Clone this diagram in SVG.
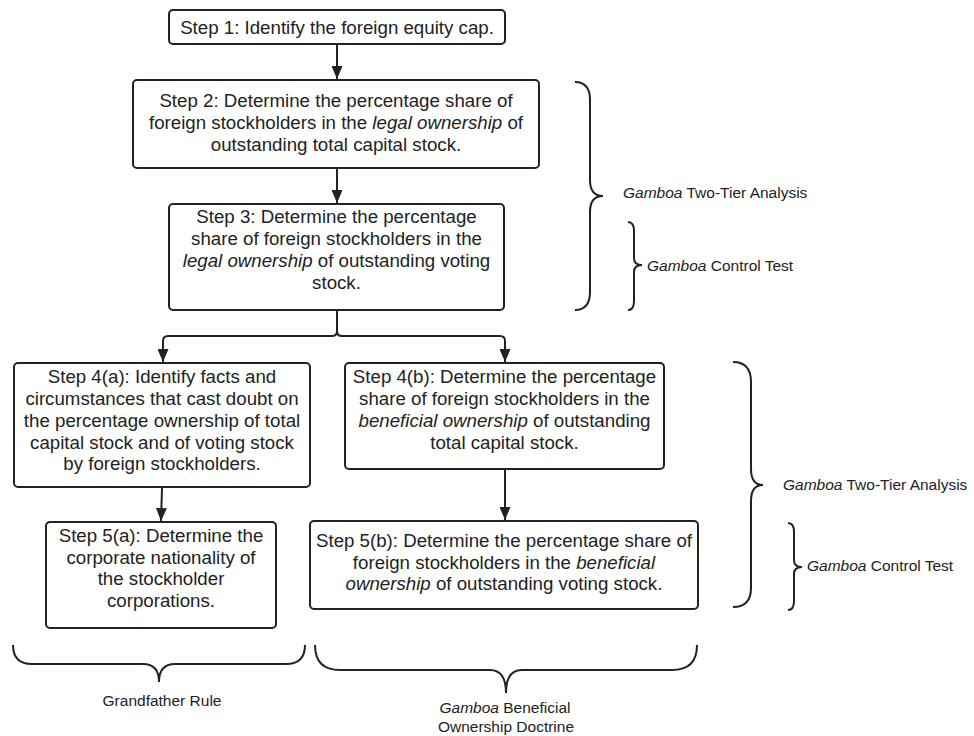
<svg xmlns="http://www.w3.org/2000/svg" width="974" height="736" viewBox="0 0 974 736">
<style>
.box{fill:#fff;stroke:#222;stroke-width:2}
.t{font-family:"Liberation Sans",Arial,sans-serif;font-size:18.7px;fill:#222;text-anchor:middle}
.lab{font-family:"Liberation Sans",Arial,sans-serif;font-size:15.5px;fill:#222}
.labc{font-family:"Liberation Sans",Arial,sans-serif;font-size:15.5px;fill:#222;text-anchor:middle}
.i{font-style:italic}
.con{fill:none;stroke:#222;stroke-width:2}
.brace{fill:none;stroke:#222;stroke-width:2}
</style>
<defs>
<marker id="arrv" markerUnits="userSpaceOnUse" markerWidth="14" markerHeight="11" viewBox="0 0 14 11" refX="13" refY="5.5" orient="auto">
<path d="M0,0 L13,5.5 L0,11 Z" fill="#222"/>
</marker>
</defs>
<rect width="974" height="736" fill="#fff"/>

<g id="connectors">
<path class="con" d="M337,44 V79" marker-end="url(#arrv)"/>
<path class="con" d="M337,168 V203" marker-end="url(#arrv)"/>
<path class="con" d="M337,310 V331 Q337,336 332,336 H168 Q163,336 163,341 V362" marker-end="url(#arrv)"/>
<path class="con" d="M337,331 Q337,336 342,336 H500 Q505,336 505,341 V362" marker-end="url(#arrv)"/>
<path class="con" d="M162,488 L161,521" marker-end="url(#arrv)"/>
<path class="con" d="M505,469 V520" marker-end="url(#arrv)"/>
</g>

<g id="step1">
<rect class="box" x="169" y="10" width="336" height="34" rx="4"/>
<text class="t" x="337" y="33.5">Step 1: Identify the foreign equity cap.</text>
</g>

<g id="step2">
<rect class="box" x="133" y="80" width="406" height="88" rx="4"/>
<text class="t" x="336" y="107">Step 2: Determine the percentage share of</text>
<text class="t" x="336" y="129">foreign stockholders in the <tspan class="i">legal ownership</tspan> of</text>
<text class="t" x="336" y="150.5">outstanding total capital stock.</text>
</g>

<g id="step3">
<rect class="box" x="169" y="204" width="335" height="106" rx="4"/>
<text class="t" x="336.5" y="223">Step 3: Determine the percentage</text>
<text class="t" x="336.5" y="245">share of foreign stockholders in the</text>
<text class="t" x="336.5" y="267"><tspan class="i">legal ownership</tspan> of outstanding voting</text>
<text class="t" x="336.5" y="289">stock.</text>
</g>

<g id="step4a">
<rect class="box" x="14" y="363" width="296" height="124" rx="4"/>
<text class="t" x="162" y="383">Step 4(a): Identify facts and</text>
<text class="t" x="162" y="405">circumstances that cast doubt on</text>
<text class="t" x="162" y="427">the percentage ownership of total</text>
<text class="t" x="162" y="448.5">capital stock and of voting stock</text>
<text class="t" x="162" y="470">by foreign stockholders.</text>
</g>

<g id="step5a">
<rect class="box" x="46" y="522" width="230" height="106" rx="4"/>
<text class="t" x="161" y="542">Step 5(a): Determine the</text>
<text class="t" x="161" y="563.5">corporate nationality of</text>
<text class="t" x="161" y="585">the stockholder</text>
<text class="t" x="161" y="607">corporations.</text>
</g>

<g id="step4b">
<rect class="box" x="345" y="363" width="319" height="106" rx="4"/>
<text class="t" x="504.5" y="383">Step 4(b): Determine the percentage</text>
<text class="t" x="504.5" y="405">share of foreign stockholders in the</text>
<text class="t" x="504.5" y="427"><tspan class="i">beneficial ownership</tspan> of outstanding</text>
<text class="t" x="504.5" y="448.5">total capital stock.</text>
</g>

<g id="step5b">
<rect class="box" x="310" y="521" width="388" height="88" rx="4"/>
<text class="t" x="504" y="547">Step 5(b): Determine the percentage share of</text>
<text class="t" x="504" y="568.5">foreign stockholders in the <tspan class="i">beneficial</tspan></text>
<text class="t" x="504" y="590"><tspan class="i">ownership</tspan> of outstanding voting stock.</text>
</g>

<g id="brace-upper-twotier">
<path class="brace" d="M575,82 Q590,82 590,100 V180 Q590,196 603,196 Q590,196 590,212 V292 Q590,310 575,310"/>
<text class="lab" x="623" y="198"><tspan class="i">Gamboa</tspan> Two-Tier Analysis</text>
</g>
<g id="brace-upper-control">
<path class="brace" d="M628,222 Q634,222 634,231 V258 Q634,265 642,265 Q634,265 634,272 V301 Q634,310 628,310"/>
<text class="lab" x="647" y="271"><tspan class="i">Gamboa</tspan> Control Test</text>
</g>
<g id="brace-lower-twotier">
<path class="brace" d="M733,362 Q751,362 751,382 V469 Q751,485 763,485 Q751,485 751,501 V588 Q751,607 733,607"/>
<text class="lab" x="783" y="490"><tspan class="i">Gamboa</tspan> Two-Tier Analysis</text>
</g>
<g id="brace-lower-control">
<path class="brace" d="M788,523 Q794,523 794,532 V560 Q794,567 802,567 Q794,567 794,574 V601 Q794,610 788,610"/>
<text class="lab" x="807" y="571"><tspan class="i">Gamboa</tspan> Control Test</text>
</g>
<g id="brace-grandfather">
<path class="brace" d="M13,645 Q13,664 32,664 H143 Q159,664 159,682 Q159,664 175,664 H286 Q305,664 305,645"/>
<text class="labc" x="162" y="706">Grandfather Rule</text>
</g>
<g id="brace-beneficial">
<path class="brace" d="M315,645 Q315,670 340,670 H490 Q506,670 506,693 Q506,670 522,670 H672 Q697,670 697,645"/>
<text class="labc" x="505" y="713"><tspan class="i">Gamboa</tspan> Beneficial</text>
<text class="labc" x="506" y="732">Ownership Doctrine</text>
</g>
</svg>
